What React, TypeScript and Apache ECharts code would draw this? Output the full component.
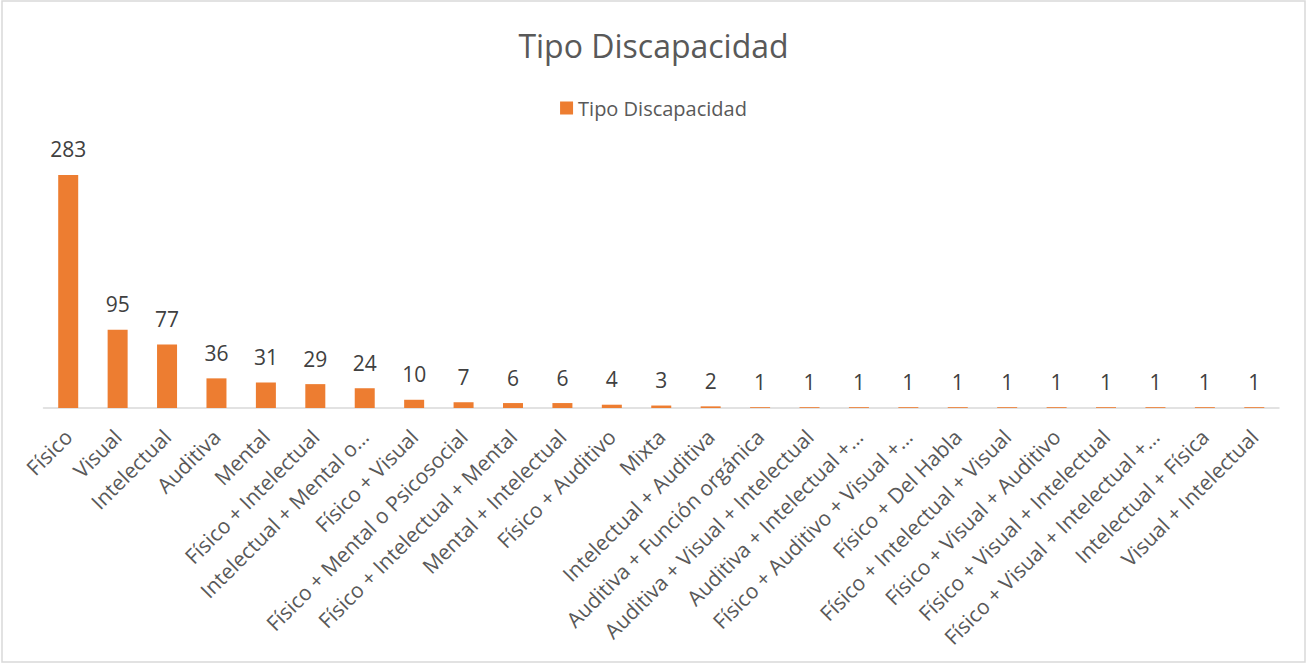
import React, { useEffect, useRef } from "react";
import * as echarts from "echarts";

const categories = [
  "Físico",
  "Visual",
  "Intelectual",
  "Auditiva",
  "Mental",
  "Físico + Intelectual",
  "Intelectual + Mental o…",
  "Físico + Visual",
  "Físico + Mental o Psicosocial",
  "Físico + Intelectual + Mental",
  "Mental + Intelectual",
  "Físico + Auditivo",
  "Mixta",
  "Intelectual + Auditiva",
  "Auditiva + Función orgánica",
  "Auditiva + Visual + Intelectual",
  "Auditiva + Intelectual +…",
  "Físico + Auditivo + Visual +…",
  "Físico + Del Habla",
  "Físico + Intelectual + Visual",
  "Físico + Visual + Auditivo",
  "Físico + Visual + Intelectual",
  "Físico + Visual + Intelectual +…",
  "Intelectual + Física",
  "Visual + Intelectual",
];

const values = [283, 95, 77, 36, 31, 29, 24, 10, 7, 6, 6, 4, 3, 2, 1, 1, 1, 1, 1, 1, 1, 1, 1, 1, 1];

const seriesName = "Tipo Discapacidad";
const FONT = "'Open Sans', 'Noto Sans', sans-serif";
const TEXT = "#595959";

export default function App() {
  const ref = useRef<HTMLDivElement>(null);
  useEffect(() => {
    if (!ref.current) return;
    const chart = echarts.init(ref.current, null, { renderer: "svg" });
    chart.setOption({
      animation: false,
      backgroundColor: "#ffffff",
      title: {
        text: "Tipo Discapacidad",
        left: "center",
        top: 24,
        textStyle: { fontFamily: FONT, fontSize: 32, fontWeight: "normal", color: TEXT },
      },
      legend: {
        top: 93,
        left: "center",
        itemWidth: 13,
        itemHeight: 13,
        icon: "rect",
        itemGap: 8,
        textStyle: { fontFamily: FONT, fontSize: 20, color: TEXT },
        data: [seriesName],
      },
      graphic: [
        {
          type: "rect",
          shape: { x: 2, y: 1, width: 1303, height: 661 },
          style: { fill: "none", stroke: "#d9d9d9", lineWidth: 1.5 },
          silent: true,
        },
      ],
      grid: { left: 43.5, right: 28, top: 161, bottom: 256, containLabel: false },
      xAxis: {
        type: "category",
        data: categories,
        axisLine: { lineStyle: { color: "#d9d9d9", width: 1.5 } },
        axisTick: { show: false },
        axisLabel: {
          interval: 0,
          rotate: 45,
          margin: 25,
          fontFamily: FONT,
          fontSize: 21,
          color: TEXT,
        },
      },
      yAxis: {
        type: "value",
        min: 0,
        max: 300,
        show: false,
        splitLine: { show: false },
      },
      series: [
        {
          name: seriesName,
          type: "bar",
          data: values,
          barWidth: 20,
          itemStyle: { color: "#ED7D31" },
          label: {
            show: true,
            position: "top",
            distance: 15,
            fontFamily: FONT,
            fontSize: 21,
            color: "#404040",
          },
        },
      ],
    });
    return () => chart.dispose();
  }, []);
  return (
    <div
      ref={ref}
      style={{ position: "absolute", left: 0, top: 0, width: 1307, height: 664 }}
    />
  );
}
